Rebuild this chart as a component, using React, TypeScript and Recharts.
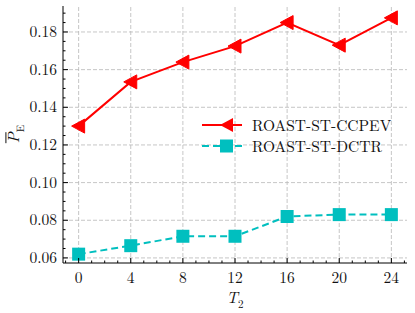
import React from "react";
import { LineChart, Line, XAxis, YAxis, ReferenceLine } from "recharts";

const t2Values = [0, 4, 8, 12, 16, 20, 24];
const ccpevValues = [0.13, 0.1535, 0.164, 0.1725, 0.185, 0.173, 0.1875];
const dctrValues = [0.062, 0.0665, 0.0715, 0.0715, 0.082, 0.083, 0.083];

const xMajorTicks = [0, 4, 8, 12, 16, 20, 24];
const xAllTicks = [-1, 0, 1, 2, 3, 4, 5, 6, 7, 8, 9, 10, 11, 12, 13, 14, 15, 16, 17, 18, 19, 20, 21, 22, 23, 24, 25];
const yMajorTicks = [0.06, 0.08, 0.1, 0.12, 0.14, 0.16, 0.18];
const yAllTicks = [
  0.06, 0.065, 0.07, 0.075, 0.08, 0.085, 0.09, 0.095, 0.1, 0.105, 0.11, 0.115, 0.12, 0.125,
  0.13, 0.135, 0.14, 0.145, 0.15, 0.155, 0.16, 0.165, 0.17, 0.175, 0.18, 0.185, 0.19,
];

const data = t2Values.map((t, i) => ({ t, ccpev: ccpevValues[i], dctr: dctrValues[i] }));

const RED = "#ff0000";
const CYAN = "#00bfbf";
const FONT = "'Latin Modern Roman', 'Liberation Serif', serif";
const FS = 15.5;
const MAJOR = 5;
const MINOR = 2.5;

const isXMajor = (v: number) => xMajorTicks.includes(v);
const isYMajor = (v: number) => Math.abs(v * 50 - Math.round(v * 50)) < 1e-6;

function BottomTick(props: any) {
  const { x, y, payload } = props;
  const major = isXMajor(payload.value);
  return (
    <g>
      <line x1={x} y1={y} x2={x} y2={y - (major ? MAJOR : MINOR)} stroke="#000" strokeWidth={1} />
      {major && (
        <text x={x} y={y + 20} textAnchor="middle" fontSize={FS} fontFamily={FONT} fill="#111">
          {payload.value}
        </text>
      )}
    </g>
  );
}

function TopTick(props: any) {
  const { x, y, payload } = props;
  const major = isXMajor(payload.value);
  return <line x1={x} y1={y} x2={x} y2={y + (major ? MAJOR : MINOR)} stroke="#000" strokeWidth={1} />;
}

function LeftTick(props: any) {
  const { x, y, payload } = props;
  const major = isYMajor(payload.value);
  return (
    <g>
      <line x1={x} y1={y} x2={x + (major ? MAJOR : MINOR)} y2={y} stroke="#000" strokeWidth={1} />
      {major && (
        <text x={x - 6} y={y + 5} textAnchor="end" fontSize={FS} fontFamily={FONT} fill="#111">
          {payload.value.toFixed(2)}
        </text>
      )}
    </g>
  );
}

function RightTick(props: any) {
  const { x, y, payload } = props;
  const major = isYMajor(payload.value);
  return <line x1={x} y1={y} x2={x - (major ? MAJOR : MINOR)} y2={y} stroke="#000" strokeWidth={1} />;
}

function TriangleDot(props: any) {
  const { cx, cy } = props;
  if (cx == null || cy == null) return null;
  return <polygon points={`${cx - 7},${cy} ${cx + 6},${cy - 7} ${cx + 6},${cy + 7}`} fill={RED} stroke={RED} />;
}

function SquareDot(props: any) {
  const { cx, cy } = props;
  if (cx == null || cy == null) return null;
  return <rect x={cx - 6.5} y={cy - 6.5} width={13} height={13} fill={CYAN} />;
}

function LegendBox() {
  const rows = [
    { label: "ROAST-ST-CCPEV", color: RED, dash: undefined, marker: "tri" },
    { label: "ROAST-ST-DCTR", color: CYAN, dash: "7 4", marker: "sq" },
  ];
  return (
    <div style={{ position: "absolute", left: 200, top: 114 }}>
      {rows.map((r) => (
        <div key={r.label} style={{ display: "flex", alignItems: "center", height: 21 }}>
          <svg width={50} height={20}>
            <line x1={2} y1={10} x2={42} y2={10} stroke={r.color} strokeWidth={2} strokeDasharray={r.dash} />
            {r.marker === "tri" ? (
              <polygon points="20,10 33,3 33,17" fill={r.color} />
            ) : (
              <rect x={20} y={3.5} width={13} height={13} fill={r.color} />
            )}
          </svg>
          <span style={{ fontFamily: FONT, fontSize: FS, color: "#111", marginLeft: 2 }}>{r.label}</span>
        </div>
      ))}
    </div>
  );
}

export default function App() {
  return (
    <div style={{ position: "absolute", left: 0, top: 0, width: 415, height: 313, background: "#fff" }}>
      <LineChart width={415} height={313} data={data} margin={{ top: 6, right: 8, left: 0, bottom: 0 }}>
        {xMajorTicks.map((v) => (
          <ReferenceLine key={"gx" + v} x={v} stroke="#b8b8b8" strokeDasharray="4 2" strokeWidth={0.8} />
        ))}
        {yMajorTicks.map((v) => (
          <ReferenceLine key={"gy" + v} y={v} stroke="#b8b8b8" strokeDasharray="4 2" strokeWidth={0.8} />
        ))}
        <XAxis
          dataKey="t"
          type="number"
          domain={[-1.2, 25.2]}
          ticks={xAllTicks}
          interval={0}
          height={50}
          tickSize={0}
          tickMargin={0}
          tickLine={false}
          tick={<BottomTick />}
          axisLine={{ stroke: "#000", strokeWidth: 1 }}
          allowDataOverflow
        />
        <XAxis
          xAxisId="top"
          orientation="top"
          dataKey="t"
          type="number"
          domain={[-1.2, 25.2]}
          ticks={xAllTicks}
          interval={0}
          height={0}
          tickSize={0}
          tickMargin={0}
          tickLine={false}
          tick={<TopTick />}
          axisLine={{ stroke: "#000", strokeWidth: 1 }}
          allowDataOverflow
        />
        <YAxis
          type="number"
          domain={[0.0573, 0.1938]}
          ticks={yAllTicks}
          interval={0}
          width={63}
          tickSize={0}
          tickMargin={0}
          tickLine={false}
          tick={<LeftTick />}
          axisLine={{ stroke: "#000", strokeWidth: 1 }}
          allowDataOverflow
        />
        <YAxis
          yAxisId="right"
          orientation="right"
          type="number"
          domain={[0.0573, 0.1938]}
          ticks={yAllTicks}
          interval={0}
          width={0}
          tickSize={0}
          tickMargin={0}
          tickLine={false}
          tick={<RightTick />}
          axisLine={{ stroke: "#000", strokeWidth: 1 }}
          allowDataOverflow
        />
        <Line
          dataKey="ccpev"
          stroke={RED}
          strokeWidth={2}
          dot={<TriangleDot />}
          activeDot={false}
          isAnimationActive={false}
        />
        <Line
          dataKey="dctr"
          stroke={CYAN}
          strokeWidth={2}
          strokeDasharray="7 4"
          dot={<SquareDot />}
          activeDot={false}
          isAnimationActive={false}
        />
      </LineChart>
      <LegendBox />
      <div
        style={{
          position: "absolute",
          left: 14,
          top: 134,
          transform: "translate(-50%, -50%) rotate(-90deg)",
          fontFamily: FONT,
          fontSize: 16,
          color: "#111",
          whiteSpace: "nowrap",
        }}
      >
        <i style={{ display: "inline-block", borderTop: "1px solid #111", lineHeight: "12px", paddingTop: 1 }}>P</i>
        <sub style={{ fontSize: 11 }}>E</sub>
      </div>
      <div
        style={{
          position: "absolute",
          left: 235,
          top: 298,
          transform: "translate(-50%, -50%)",
          fontFamily: FONT,
          fontSize: 16,
          color: "#111",
          whiteSpace: "nowrap",
        }}
      >
        <i>T</i>
        <sub style={{ fontSize: 11 }}>2</sub>
      </div>
    </div>
  );
}
